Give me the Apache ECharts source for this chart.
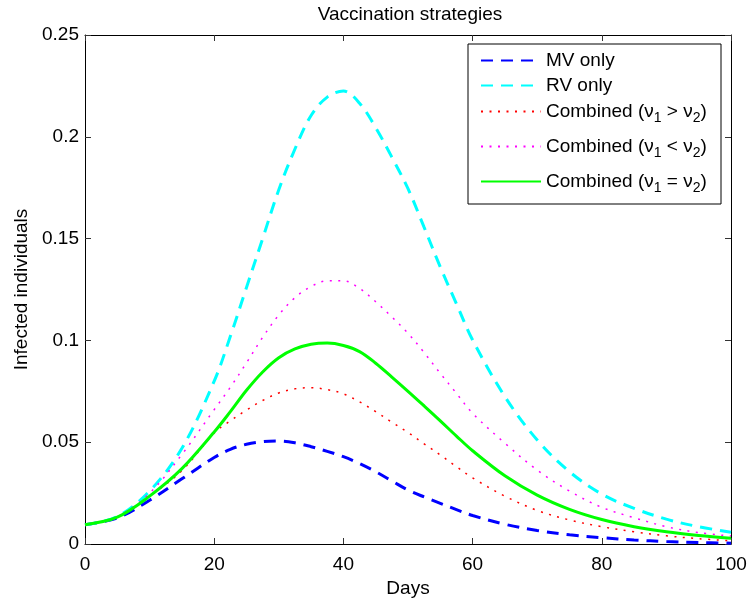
<!DOCTYPE html>
<html>
<head>
<meta charset="utf-8">
<script src="https://cdn.jsdelivr.net/npm/echarts@6/dist/echarts.min.js"></script>
<style>html,body{margin:0;padding:0;background:#fff;}#c{width:748px;height:599px;}</style>
</head>
<body>
<div id="c"></div>
<script>
const days = [0,5,10,15,20,22.5,25,27.5,30,32.5,35,37.5,40,42.5,45,47.5,50,52.5,55,57.5,60,65,70,75,80,85,90,95,100];
const mvOnly = [0.0095,0.0128,0.0215,0.032,0.0425,0.0465,0.049,0.0503,0.0506,0.0497,0.0478,0.0455,0.0429,0.0395,0.0355,0.031,0.0265,0.0231,0.0200,0.0169,0.0140,0.0097,0.0066,0.0045,0.0031,0.0020,0.0012,0.0007,0.0004];
const rvOnly = [0.0095,0.0135,0.026,0.047,0.080,0.102,0.126,0.150,0.174,0.194,0.2105,0.2195,0.2225,0.2165,0.2045,0.190,0.1745,0.1555,0.136,0.118,0.1002,0.0724,0.0511,0.0355,0.0245,0.0175,0.0122,0.0085,0.0058];
const combGt = [0.0095,0.0132,0.0235,0.036,0.0545,0.0605,0.0658,0.0705,0.0742,0.0762,0.0768,0.0758,0.0738,0.0698,0.0650,0.0598,0.0548,0.0492,0.0437,0.038,0.0325,0.0235,0.0165,0.0118,0.0085,0.006,0.004,0.0026,0.0016];
const combLt = [0.0095,0.0134,0.025,0.044,0.066,0.077,0.089,0.1015,0.1125,0.121,0.1265,0.1293,0.1293,0.1255,0.119,0.1115,0.1035,0.094,0.0838,0.074,0.0642,0.0495,0.0363,0.026,0.018,0.0129,0.0085,0.0056,0.0039];
const combEq = [0.0095,0.0132,0.0235,0.037,0.055,0.065,0.0755,0.0845,0.0915,0.0958,0.0981,0.0987,0.0975,0.0945,0.0888,0.082,0.075,0.0678,0.0605,0.053,0.0458,0.0335,0.024,0.017,0.012,0.0085,0.006,0.0042,0.0028];
const names = ['MV only','RV only','Combined (ν1 > ν2)','Combined (ν1 < ν2)','Combined (ν1 = ν2)'];
const xTicks = [0,20,40,60,80,100];
const yTicks = [0,0.05,0.1,0.15,0.2,0.25];

const FONT = 'Liberation Sans, Arial, Helvetica, sans-serif';
const pairs = arr => days.map((d,i)=>[d,arr[i]]);
function mk(name, arr, color, type, width){
  return {name, type:'line', data:pairs(arr), smooth:0.35, symbol:'none', showSymbol:false,
    lineStyle:{color, width, type}, itemStyle:{color:'rgba(0,0,0,0)', borderWidth:0}, z:2};
}
const series = [
  mk(names[0], mvOnly, '#0000ff', [12,8], 3),
  mk(names[1], rvOnly, '#00ffff', [12,8], 3),
  mk(names[2], combGt, '#ff0000', [2,6.5], 1.5),
  mk(names[3], combLt, '#ff00ff', [2,6.5], 1.5),
  mk(names[4], combEq, '#00ff00', 'solid', 3)
];
const rich = {s:{fontSize:14, fontFamily:FONT, color:'#000', padding:[14,0,0,0]}, n:{fontSize:19, fontFamily:FONT, color:'#000'}};
const fmt = n => n.indexOf('ν')<0 ? n : n.replace(/ν(\d)/g, 'ν{s|$1}').replace(/^([^{]*)\{/, '{n|$1}{').replace(/\}([^{]+)\{/g, '}{n|$1}{').replace(/\}([^{}]+)$/, '}{n|$1}');
const rowCenters = [62, 87, 113, 148, 183];
const legends = names.map((n,i)=>({
  data:[n], left:480, top: rowCenters[i] - 11, padding:0, itemWidth:60, itemHeight:22,
  orient:'vertical', selectedMode:false, formatter: fmt,
  itemStyle:{opacity:0, color:'rgba(0,0,0,0)', borderWidth:0},
  textStyle:{fontSize:19, fontFamily:FONT, color:'#000', rich}
}));
const axCommon = {
  type:'value', splitLine:{show:false},
  axisLine:{show:true, onZero:false, lineStyle:{color:'#000', width:1}},
  axisTick:{show:true, inside:true, length:6, lineStyle:{color:'#333'}}
};
const chart = echarts.init(document.getElementById('c'), null, {renderer:'canvas'});
chart.setOption({
  backgroundColor:'#fff',
  animation:false,
  title:{text:'Vaccination strategies', left:405, textAlign:'center', top:0,
    textStyle:{fontSize:19, fontWeight:'normal', color:'#000', fontFamily:FONT}},
  grid:{left:85, right:17, top:35, bottom:55, containLabel:false, outerBoundsMode:'none'},
  legend: legends,
  graphic:[{type:'rect', shape:{x:468, y:44, width:253, height:160}, style:{fill:'#fff', stroke:'#000', lineWidth:1}, z:3}],
  xAxis:[
    Object.assign({}, axCommon, {min:xTicks[0], max:xTicks[xTicks.length-1], interval:20, position:'bottom',
      axisLabel:{fontSize:19, fontFamily:FONT, color:'#000', margin:11},
      name:'Days', nameLocation:'middle', nameGap:35,
      nameTextStyle:{fontSize:19, fontFamily:FONT, color:'#000'}}),
    Object.assign({}, axCommon, {min:xTicks[0], max:xTicks[xTicks.length-1], interval:20, position:'top', axisLabel:{show:false}})
  ],
  yAxis:[
    Object.assign({}, axCommon, {min:yTicks[0], max:yTicks[yTicks.length-1], interval:0.05, position:'left',
      axisLabel:{fontSize:19, fontFamily:FONT, color:'#000', margin:6},
      name:'Infected individuals', nameLocation:'middle', nameGap:54, nameRotate:90,
      nameTextStyle:{fontSize:19, fontFamily:FONT, color:'#000'}}),
    Object.assign({}, axCommon, {min:yTicks[0], max:yTicks[yTicks.length-1], interval:0.05, position:'right', axisLabel:{show:false}})
  ],
  series
});
</script>
</body>
</html>
